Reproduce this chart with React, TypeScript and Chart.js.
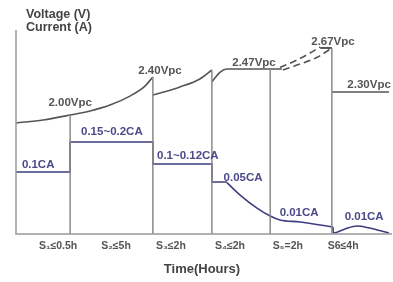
import { useEffect, useRef } from "react";
import { Chart, registerables } from "chart.js";
Chart.register(...registerables);

// Schematic charging profile: time in % of the cycle, level in % of plot height
const stageEnds = [14.4, 36.4, 52.1, 67.6, 84.0];
const stageTops = [58.3, 77.0, 80.4, 80.9, 91.2];
const stageLabels = ["S₁≤0.5h", "S₂≤5h", "S₃≤2h", "S₄≤2h", "S₅=2h", "S6≤4h"];
const stageLabelX = [11.2, 26.6, 41.2, 56.9, 72.3, 87.0];

// Voltage segments
const voltAX = [0, 7.2, 14.4, 19.7, 25.0, 30.3, 34.3, 36.4];
const voltAY = [54.4, 55.9, 58.3, 60.3, 63.2, 67.6, 72.5, 77.0];
const voltBX = [36.4, 43.6, 48.9, 52.1];
const voltBY = [68.1, 72.1, 76.0, 80.4];
const voltCX = [52.1, 52.9, 54.3, 56.1, 60.0, 70.7];
const voltCY = [74.5, 76.5, 79.4, 80.9, 80.9, 80.9];
const voltDash1X = [70.2, 74.7, 78.2, 80.9];
const voltDash1Y = [81.6, 85.3, 88.7, 91.7];
const voltDash2X = [71.0, 75.5, 80.1, 84.0];
const voltDash2Y = [80.4, 83.3, 86.6, 91.2];
const voltTopX = [80.9, 84.0];
const voltTopY = [91.2, 91.2];
const voltFloatX = [84.0, 99.2];
const voltFloatY = [69.6, 69.6];

// Current segments
const currStepX = [0, 14.4, 14.4, 36.4, 36.4, 52.1, 52.1, 56.1];
const currStepY = [30.4, 30.4, 45.1, 45.1, 34.3, 34.3, 25.5, 25.5];
const currDecayX = [56.1, 59.6, 64.1, 67.6, 70.2, 75.5, 84.3];
const currDecayY = [25.2, 19.1, 12.7, 8.8, 6.9, 5.9, 3.4];
const currFloatX = [84.3, 84.4, 87.5, 90.7, 94.0, 99.2];
const currFloatY = [3.4, 0.5, 2.5, 3.9, 2.9, 0.5];

const voltTexts = ["2.00Vpc", "2.40Vpc", "2.47Vpc", "2.67Vpc", "2.30Vpc"];
const voltTextX = [14.4, 38.3, 63.3, 84.3, 93.9];
const voltTextY = [64.2, 79.9, 83.8, 94.1, 73.0];
const currTexts = ["0.1CA", "0.15~0.2CA", "0.1~0.12CA", "0.05CA", "0.01CA", "0.01CA"];
const currTextX = [5.9, 25.5, 45.7, 60.4, 75.3, 92.6];
const currTextY = [33.8, 50.0, 38.2, 27.5, 10.3, 8.3];

const VCOL = "#555555";
const CCOL = "#3d3d80";
const GRID = "#8a8a8a";
const FONT = "'Liberation Sans', Arial, 'DejaVu Sans', sans-serif";

const pts = (xs: number[], ys: number[]) => xs.map((x, i) => ({ x, y: ys[i] }));

export default function App() {
  const ref = useRef<HTMLCanvasElement>(null);
  useEffect(() => {
    if (!ref.current) return;
    const line = (data: any, color: string, extra: any = {}) => ({
      data,
      showLine: true,
      borderColor: color,
      borderWidth: 1.6,
      pointRadius: 0,
      clip: false,
      cubicInterpolationMode: "monotone",
      ...extra,
    });
    const datasets: any[] = [];
    stageEnds.forEach((x, i) => {
      datasets.push(line(pts([x, x], [0, stageTops[i]]), GRID, { borderWidth: 1.5 }));
    });
    datasets.push(line(pts(voltAX, voltAY), VCOL));
    datasets.push(line(pts(voltBX, voltBY), VCOL));
    datasets.push(line(pts(voltCX, voltCY), VCOL));
    datasets.push(line(pts(voltDash1X, voltDash1Y), VCOL, { borderDash: [7, 4] }));
    datasets.push(line(pts(voltDash2X, voltDash2Y), VCOL, { borderDash: [7, 4] }));
    datasets.push(line(pts(voltTopX, voltTopY), VCOL, { borderWidth: 2 }));
    datasets.push(line(pts(voltFloatX, voltFloatY), VCOL));
    datasets.push(line(pts(currStepX, currStepY), CCOL, { cubicInterpolationMode: "default", tension: 0 }));
    datasets.push(line(pts(currDecayX, currDecayY), CCOL));
    datasets.push(line(pts(currFloatX, currFloatY), CCOL));

    const deco = {
      id: "deco",
      afterDatasetsDraw(chart: any) {
        const { ctx, chartArea: a, scales } = chart;
        const xs = scales.x, ys = scales.y;
        ctx.save();
        ctx.strokeStyle = "#999999";
        ctx.lineWidth = 1.5;
        ctx.beginPath();
        ctx.moveTo(a.left, a.top);
        ctx.lineTo(a.left, a.bottom);
        ctx.lineTo(a.right, a.bottom);
        ctx.stroke();
        ctx.textAlign = "center";
        ctx.textBaseline = "middle";
        ctx.font = `bold 11.5px ${FONT}`;
        ctx.fillStyle = VCOL;
        voltTexts.forEach((t, i) => ctx.fillText(t, xs.getPixelForValue(voltTextX[i]), ys.getPixelForValue(voltTextY[i])));
        ctx.fillStyle = "#4a4a88";
        currTexts.forEach((t, i) => ctx.fillText(t, xs.getPixelForValue(currTextX[i]), ys.getPixelForValue(currTextY[i])));
        ctx.fillStyle = "#555555";
        ctx.font = `bold 10.5px ${FONT}`;
        stageLabels.forEach((t, i) => ctx.fillText(t, xs.getPixelForValue(stageLabelX[i]), a.bottom + 12));
        ctx.fillStyle = "#444444";
        ctx.font = `bold 13px ${FONT}`;
        ctx.fillText("Time(Hours)", (a.left + a.right) / 2 - 2, a.bottom + 35);
        ctx.textAlign = "left";
        ctx.font = `bold 12.5px ${FONT}`;
        ctx.fillText("Voltage (V)", a.left + 10, a.top - 15);
        ctx.fillText("Current (A)", a.left + 10, a.top - 2);
        ctx.restore();
      },
    };

    const chart = new Chart(ref.current, {
      type: "scatter",
      data: { datasets },
      options: {
        animation: false,
        responsive: false,
        events: [],
        layout: { padding: { left: 16, right: 1, top: 30, bottom: 48 } },
        plugins: { legend: { display: false }, tooltip: { enabled: false } },
        scales: {
          x: { type: "linear", min: 0, max: 100, display: false },
          y: { type: "linear", min: 0, max: 100, display: false },
        },
      },
      plugins: [deco],
    });
    return () => chart.destroy();
  }, []);
  return (
    <div style={{ position: "fixed", left: 0, top: 0, width: 393, height: 282, background: "#fff" }}>
      <canvas ref={ref} width={393} height={282} style={{ width: 393, height: 282 }} />
    </div>
  );
}
